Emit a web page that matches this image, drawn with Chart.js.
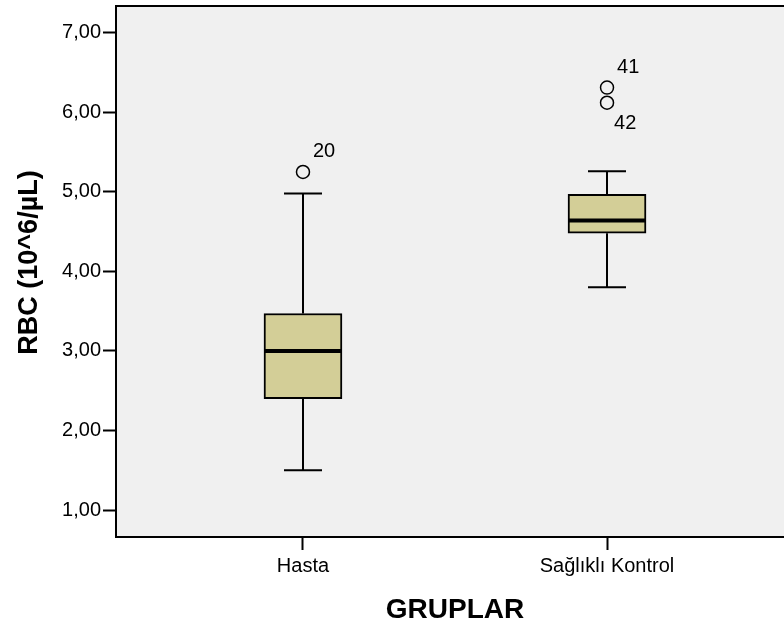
<!DOCTYPE html>
<html>
<head>
<meta charset="utf-8">
<script src="https://cdn.jsdelivr.net/npm/chart.js@4/dist/chart.umd.min.js"></script>
<style>
  html, body { margin: 0; padding: 0; background: #ffffff; overflow: hidden; }
  #wrap { width: 794px; height: 627px; }
</style>
</head>
<body>
<div id="wrap"><canvas id="box" width="794" height="627"></canvas></div>
<script>
// RBC by group: five-number summaries per group
const categories = ['Hasta', 'Sağlıklı Kontrol'];
const whiskerLow = [1.50, 3.80];
const q1 = [2.40, 4.48];
const median = [3.00, 4.64];
const q3 = [3.47, 4.97];
const whiskerHigh = [4.98, 5.26];

// outlying cases: group index, value, case number
const outlierGroup = [0, 1, 1];
const outlierValue = [5.25, 6.31, 6.12];
const outlierCase = ['20', '41', '42'];

const yTickValues = [1, 2, 3, 4, 5, 6, 7];
const yTickLabels = ['1,00', '2,00', '3,00', '4,00', '5,00', '6,00', '7,00'];

const FONT = '"Liberation Sans", Arial, Helvetica, sans-serif';

const plotFrame = {
  id: 'plotFrame',
  beforeDraw(chart) {
    const { ctx, chartArea: a } = chart;
    ctx.save();
    ctx.fillStyle = '#F0F0F0';
    ctx.fillRect(a.left, a.top, a.right - a.left, a.bottom - a.top);
    ctx.restore();
  },
  afterDraw(chart) {
    const { ctx, chartArea: a } = chart;
    ctx.save();
    ctx.strokeStyle = '#000';
    ctx.lineWidth = 2;
    ctx.beginPath();
    ctx.moveTo(a.left - 1, a.top);
    ctx.lineTo(a.right + 1, a.top);
    ctx.moveTo(a.right, a.top);
    ctx.lineTo(a.right, a.bottom);
    ctx.stroke();

    // vertical axis title
    ctx.fillStyle = '#000';
    ctx.font = 'bold 27px ' + FONT;
    ctx.textAlign = 'center';
    ctx.textBaseline = 'alphabetic';
    ctx.translate(37, 262.5);
    ctx.rotate(-Math.PI / 2);
    ctx.fillText('RBC (10^6/µL)', 0, 0);
    ctx.restore();
  }
};

// whiskers, caps and medians drawn through the scales
const boxParts = {
  id: 'boxParts',
  beforeDatasetsDraw(chart) {
    const { ctx } = chart;
    const xs = chart.scales.x, ys = chart.scales.y;
    ctx.save();
    ctx.strokeStyle = '#000';
    ctx.lineWidth = 2;
    categories.forEach((c, i) => {
      const x = Math.round(xs.getPixelForValue(i + 1));
      const capHalf = 19;
      const yLo = ys.getPixelForValue(whiskerLow[i]);
      const yHi = ys.getPixelForValue(whiskerHigh[i]);
      const yQ1 = ys.getPixelForValue(q1[i]);
      const yQ3 = ys.getPixelForValue(q3[i]);
      ctx.beginPath();
      ctx.moveTo(x, yLo); ctx.lineTo(x, yQ1);
      ctx.moveTo(x, yQ3); ctx.lineTo(x, yHi);
      ctx.moveTo(x - capHalf, yLo); ctx.lineTo(x + capHalf, yLo);
      ctx.moveTo(x - capHalf, yHi); ctx.lineTo(x + capHalf, yHi);
      ctx.stroke();
    });
    ctx.restore();
  },
  afterDatasetsDraw(chart) {
    const { ctx } = chart;
    const xs = chart.scales.x, ys = chart.scales.y;
    ctx.save();
    ctx.strokeStyle = '#000';
    ctx.lineWidth = 4;
    categories.forEach((c, i) => {
      const x = xs.getPixelForValue(i + 1);
      const yM = ys.getPixelForValue(median[i]);
      ctx.beginPath();
      ctx.moveTo(x - 38, yM); ctx.lineTo(x + 38, yM);
      ctx.stroke();
    });
    // case labels beside the outliers
    ctx.fillStyle = '#000';
    ctx.font = '20px ' + FONT;
    ctx.textAlign = 'left';
    ctx.textBaseline = 'middle';
    outlierValue.forEach((v, k) => {
      const g = outlierGroup[k];
      const x = xs.getPixelForValue(g + 1);
      const y = ys.getPixelForValue(v);
      const lower = outlierValue.some((w, j) => j !== k && outlierGroup[j] === g && w > v);
      if (lower) ctx.fillText(outlierCase[k], x + 7, y + 21);
      else ctx.fillText(outlierCase[k], x + 10, y - 20);
    });
    ctx.restore();
  }
};

new Chart(document.getElementById('box'), {
  type: 'bar',
  data: {
    datasets: [
      {
        type: 'bar',
        data: categories.map((c, i) => ({ x: i + 1, y: [q1[i], q3[i]] })),
        backgroundColor: '#D3CE97',
        borderColor: '#000',
        borderWidth: 2,
        borderSkipped: false,
        barThickness: 78,
        grouped: false
      },
      {
        type: 'scatter',
        data: outlierValue.map((v, k) => ({ x: outlierGroup[k] + 1, y: v })),
        pointStyle: 'circle',
        pointRadius: 6.5,
        pointBorderWidth: 1.5,
        pointBackgroundColor: 'rgba(0,0,0,0)',
        pointBorderColor: '#000',
        showLine: false
      }
    ]
  },
  options: {
    responsive: false,
    animation: false,
    events: [],
    layout: { autoPadding: false, padding: { top: 6, left: 0, right: 0, bottom: 0 } },
    plugins: { legend: { display: false }, tooltip: { enabled: false } },
    scales: {
      x: {
        type: 'linear',
        offset: false,
        min: 0.385,
        max: 2.615,
        afterBuildTicks(scale) { scale.ticks = categories.map((c, i) => ({ value: i + 1 })); },
        afterFit(scale) { scale.height = 90; scale.paddingLeft = 0; scale.paddingRight = 0; },
        ticks: {
          autoSkip: false,
          maxRotation: 0,
          padding: 4,
          color: '#000',
          font: { family: FONT, size: 20 },
          callback: (v) => categories[v - 1]
        },
        grid: { offset: false, drawOnChartArea: false, drawTicks: true, tickLength: 13, tickWidth: 2, tickColor: '#000' },
        border: { display: true, color: '#000', width: 2 },
        title: {
          display: true,
          text: 'GRUPLAR',
          color: '#000',
          font: { family: FONT, size: 28, weight: 'bold' },
          padding: { top: 0, bottom: 0 }
        }
      },
      y: {
        type: 'linear',
        min: 0.661,
        max: 7.336,
        afterBuildTicks(scale) { scale.ticks = yTickValues.map(v => ({ value: v })); },
        afterFit(scale) { scale.width = 116; scale.paddingTop = 0; scale.paddingBottom = 0; },
        ticks: {
          padding: 2,
          color: '#000',
          font: { family: FONT, size: 20 },
          callback: (v) => yTickLabels[yTickValues.indexOf(v)]
        },
        grid: { drawOnChartArea: false, drawTicks: true, tickLength: 13, tickWidth: 2, tickColor: '#000' },
        border: { display: true, color: '#000', width: 2 }
      }
    }
  },
  plugins: [plotFrame, boxParts]
});
</script>
</body>
</html>
